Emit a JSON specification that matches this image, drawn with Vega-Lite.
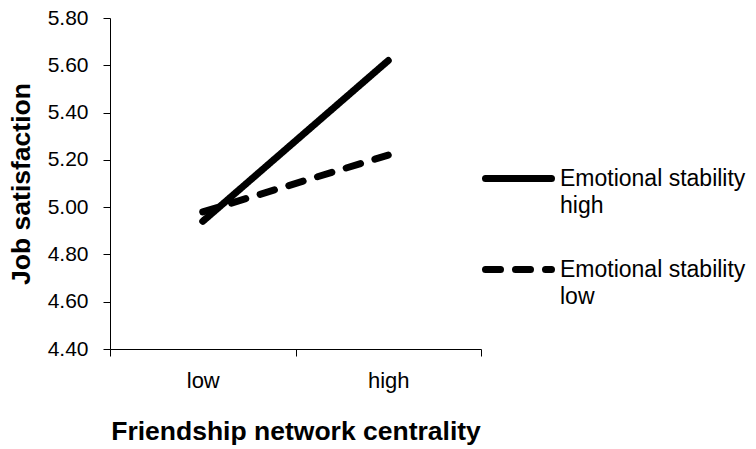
{
  "$schema": "https://vega.github.io/schema/vega-lite/v6.json",
  "width": 371,
  "height": 331,
  "autosize": {"type": "none"},
  "padding": {"left": 110, "top": 18, "right": 275, "bottom": 100},
  "background": "white",
  "data": {
    "values": [
      {"centrality": "low", "series": "Emotional stability high", "satisfaction": 4.94},
      {"centrality": "high", "series": "Emotional stability high", "satisfaction": 5.62},
      {"centrality": "low", "series": "Emotional stability low", "satisfaction": 4.98},
      {"centrality": "high", "series": "Emotional stability low", "satisfaction": 5.22}
    ]
  },
  "mark": {"type": "line", "color": "black", "strokeWidth": 7, "strokeCap": "round"},
  "encoding": {
    "x": {
      "field": "centrality",
      "type": "nominal",
      "sort": ["low", "high"],
      "scale": {"type": "band", "paddingInner": 0, "paddingOuter": 0},
      "axis": {
        "title": "Friendship network centrality",
        "labelAngle": 0,
        "labelFontSize": 22,
        "tickBand": "extent",
        "labelPadding": 14,
        "titlePadding": 27
      }
    },
    "y": {
      "field": "satisfaction",
      "type": "quantitative",
      "scale": {"domain": [4.4, 5.8], "nice": false, "zero": false},
      "axis": {
        "title": "Job satisfaction",
        "values": [4.4, 4.6, 4.8, 5.0, 5.2, 5.4, 5.6, 5.8],
        "format": ".2f",
        "grid": false,
        "labelPadding": 15,
        "titlePadding": 12
      }
    },
    "strokeDash": {
      "field": "series",
      "type": "nominal",
      "scale": {
        "domain": ["Emotional stability high", "Emotional stability low"],
        "range": [[1, 0], [15, 15]]
      },
      "legend": {
        "title": null,
        "orient": "none",
        "legendX": 372,
        "legendY": 124,
        "padding": 0,
        "symbolType": "stroke",
        "symbolSize": 4356,
        "symbolStrokeWidth": 7,
        "symbolStrokeColor": "black",
        "labelOffset": 5,
        "labelLimit": 400,
        "labelFont": "Liberation Sans",
        "labelFontSize": 23,
        "labelColor": "black",
        "labelExpr": "['Emotional stability', slice(datum.label, 20)]",
        "rowPadding": 15,
        "encode": {
          "symbols": {"update": {"strokeCap": {"value": "round"}}},
          "labels": {"update": {"lineHeight": {"value": 27}}}
        }
      }
    }
  },
  "config": {
    "view": {"stroke": null},
    "axis": {
      "domainColor": "black",
      "domainWidth": 1,
      "tickColor": "black",
      "tickSize": 7,
      "tickWidth": 1,
      "labelFont": "Liberation Sans",
      "labelFontSize": 21,
      "labelColor": "black",
      "titleFont": "Liberation Sans",
      "titleFontSize": 26.5,
      "titleFontWeight": "bold",
      "titleColor": "black"
    }
  }
}
